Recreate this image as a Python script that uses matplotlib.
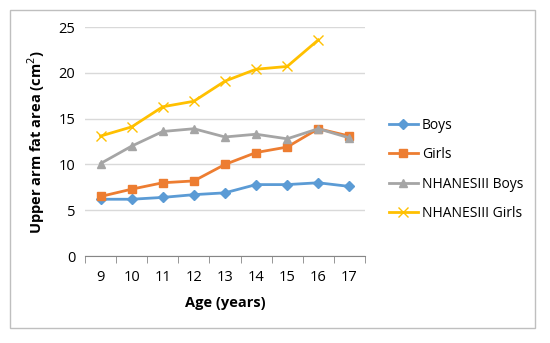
import numpy as np
import matplotlib.pyplot as plt
from matplotlib.patches import Rectangle

ages = [9, 10, 11, 12, 13, 14, 15, 16, 17]
boys = [6.2, 6.2, 6.4, 6.7, 6.9, 7.8, 7.8, 8.0, 7.6]
girls = [6.5, 7.3, 8.0, 8.2, 10.0, 11.3, 11.9, 13.9, 13.1]
nh_boys = [10.1, 12.0, 13.6, 13.9, 13.0, 13.3, 12.8, 13.9, 12.9]
nh_girls = [13.1, 14.1, 16.3, 16.9, 19.1, 20.4, 20.7, 23.6]

plt.rcParams['font.family'] = ['Open Sans', 'DejaVu Sans']

fig = plt.figure(figsize=(5.5, 3.43), dpi=100)
ax = fig.add_axes([0.1545, 0.2536, 0.509, 0.6674])

fig.patches.append(Rectangle((10/550, 1-328/343), 525/550, 318/343, transform=fig.transFigure,
                             fill=False, edgecolor='#bfbfbf', lw=1))

ax.plot(ages, boys, color='#5B9BD5', marker='D', ms=5, lw=2, label='Boys')
ax.plot(ages, girls, color='#ED7D31', marker='s', ms=6, lw=2, label='Girls')
ax.plot(ages, nh_boys, color='#A5A5A5', marker='^', ms=6, lw=2, label='NHANESIII Boys')
ax.plot(ages[:len(nh_girls)], nh_girls, color='#FFC000', marker='x', ms=7, mew=1, lw=2,
        label='NHANESIII Girls')

ax.set_xlim(8.5, 17.5)
ax.set_ylim(0, 25)
ax.set_yticks(range(0, 26, 5))
ax.set_xticks(ages)
ax.set_xticks(np.arange(8.5, 17.6, 1), minor=True)
ax.tick_params(axis='x', which='major', length=0, pad=10, labelsize=10.5)
ax.tick_params(axis='x', which='minor', length=5, color='#868686')
ax.tick_params(axis='y', length=0, pad=7, labelsize=10.5)
ax.grid(axis='y', color='#d9d9d9', lw=1)
ax.set_axisbelow(True)
for s in ['top', 'right', 'left']:
    ax.spines[s].set_visible(False)
ax.spines['bottom'].set_color('#868686')

ax.set_xlabel('Age (years)', fontweight='bold', fontsize=10.5, labelpad=8)
ax.set_ylabel('Upper arm fat area (cm$^2$)', fontweight='bold', fontsize=10.5, labelpad=8)

ax.legend(loc='center left', bbox_to_anchor=(1.04, 0.378), frameon=False, fontsize=10,
          labelspacing=1.05, handlelength=2.1, handletextpad=0.3)

fig.savefig('out.png', dpi=100)
